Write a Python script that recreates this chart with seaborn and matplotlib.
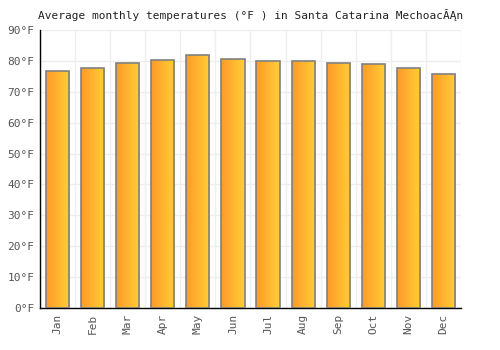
import numpy as np
import pandas as pd
import seaborn as sns
import matplotlib.pyplot as plt
from matplotlib.colors import LinearSegmentedColormap

months = ['Jan', 'Feb', 'Mar', 'Apr', 'May', 'Jun', 'Jul', 'Aug', 'Sep', 'Oct', 'Nov', 'Dec']
temps_f = [76.6, 77.6, 79.2, 80.4, 82.0, 80.7, 80.0, 80.0, 79.4, 79.1, 77.8, 75.9]
yticks = [0, 10, 20, 30, 40, 50, 60, 70, 80, 90]

df = pd.DataFrame({'month': months, 'temp': temps_f})

sns.set_style('white')
plt.rcParams['font.family'] = ['DejaVu Sans Mono']

fig = plt.figure(figsize=(5, 3.5), dpi=100)
ax = fig.add_axes([0.08, 0.12, 0.842, 0.794])

sns.barplot(data=df, x='month', y='temp', ax=ax, width=0.66,
            color='#ffb030', edgecolor='#808080', linewidth=1.2, zorder=3)

# gradient fill orange -> yellow inside each bar
cmap = LinearSegmentedColormap.from_list('sun', ['#ff9a2a', '#ffcf36'])
grad = np.linspace(0, 1, 64).reshape(1, -1)
for bar in ax.patches:
    x0, y0 = bar.get_x(), bar.get_y()
    w, h = bar.get_width(), bar.get_height()
    bar.set_facecolor('none')
    im = ax.imshow(grad, cmap=cmap, aspect='auto', extent=[x0, x0 + w, y0, y0 + h],
                   zorder=2.5, interpolation='bicubic')
    im.set_clip_path(bar)

ax.set_xlim(-0.5, len(months) - 0.5)
ax.set_ylim(0, 90)
ax.set_yticks(yticks)
ax.set_yticklabels([f'{t}°F' for t in yticks])
ax.set_xticks(range(len(months)))
ax.set_xticklabels(months, rotation=90)
ax.set_xticks(np.arange(-0.5, len(months), 1), minor=True)
ax.tick_params(axis='x', which='minor', length=0)
ax.tick_params(axis='both', which='major', labelsize=8, labelcolor='#555555', length=0, pad=4)

ax.grid(True, axis='y', color='#eeeeee', linewidth=1, zorder=0)
ax.grid(True, axis='x', which='minor', color='#eeeeee', linewidth=1, zorder=0)
ax.set_axisbelow(True)

for s in ['top', 'right']:
    ax.spines[s].set_visible(False)
for s in ['left', 'bottom']:
    ax.spines[s].set_color('#000000')
    ax.spines[s].set_linewidth(1)

ax.set_xlabel('')
ax.set_ylabel('')
ax.set_title('Average monthly temperatures (°F ) in Santa Catarina MechoacĂĄn',
             fontsize=8, color='#222222', pad=8)

fig.savefig('out.png', dpi=100)
